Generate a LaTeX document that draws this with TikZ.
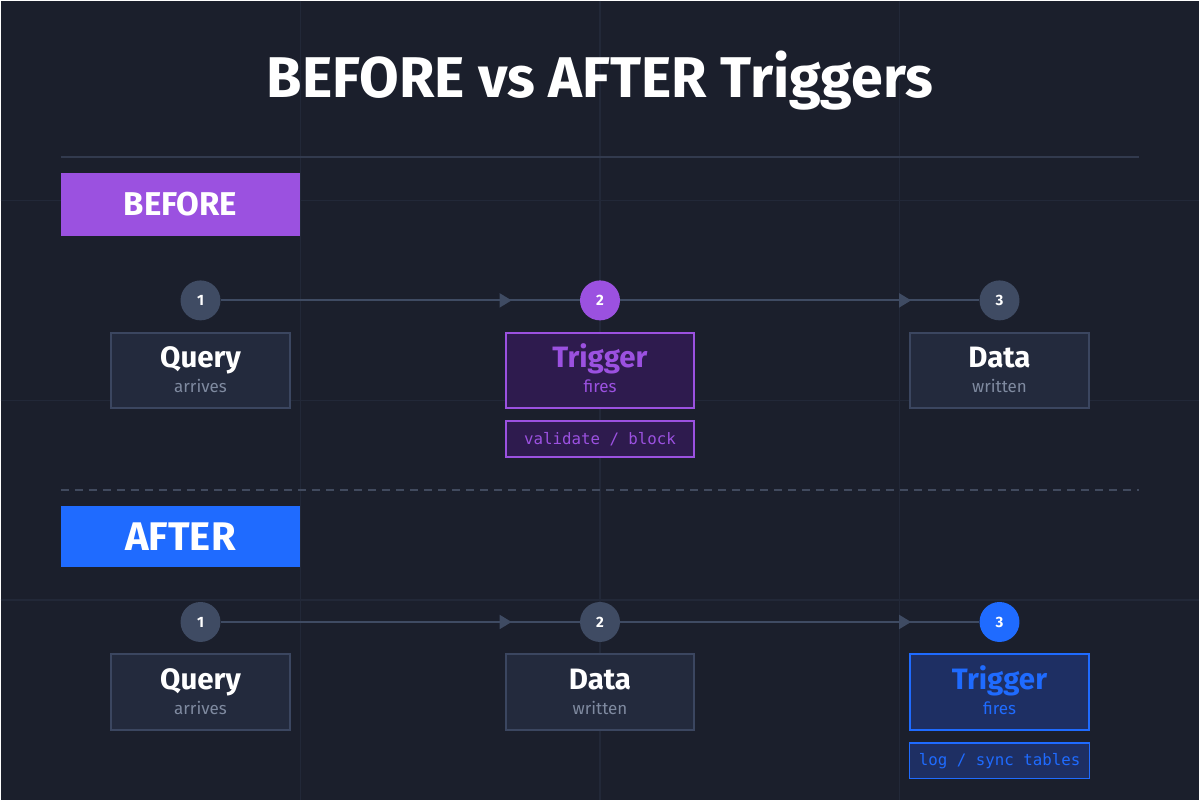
\documentclass[tikz,border=0pt]{standalone}
\usepackage{fontspec}
\setmainfont{Fira Sans}
\setmonofont{DejaVu Sans Mono}
\usetikzlibrary{positioning,arrows.meta,decorations.markings}

\definecolor{bgc}{HTML}{1B1F2C}
\definecolor{gridc}{HTML}{222838}
\definecolor{rulec}{HTML}{323A4E}
\definecolor{linec}{HTML}{3F4B63}
\definecolor{cardfill}{HTML}{232A3D}
\definecolor{cardline}{HTML}{3B4660}
\definecolor{subc}{HTML}{7F8AA0}
\definecolor{purp}{HTML}{9B51E0}
\definecolor{purpfill}{HTML}{2E1B4E}
\definecolor{blu}{HTML}{1F6BFF}
\definecolor{blufill}{HTML}{1E2F63}

\begin{document}
\begin{tikzpicture}[
    x=1pt, y=-1pt,
    dot/.style={circle, fill=linec, minimum size=40pt, inner sep=0pt, text=white,
        font=\fontsize{15}{15}\selectfont\bfseries},
    card/.style={rectangle, draw=cardline, fill=cardfill, line width=2pt,
        minimum width=180pt, minimum height=76pt, inner sep=0pt},
    tag/.style={rectangle, line width=1.5pt, minimum width=188pt,
        minimum height=36pt, inner sep=0pt, font=\fontsize{15.8}{16}\ttfamily},
    head/.style={anchor=base, text=white, font=\fontsize{29.5}{29.5}\selectfont\bfseries},
    sub/.style={anchor=base, text=subc, font=\fontsize{17}{17}\selectfont},
    banner/.style={rectangle, minimum width=240pt, inner sep=0pt, text=white},
    flow/.style={draw=linec, line width=2pt, postaction={decorate},
        decoration={markings, mark=at position 0.81 with {\arrow[linec]{Triangle[length=12pt,width=14pt]}}}}
]
\fill[bgc] (0,0) rectangle (1200,800);
\foreach \gx in {300,600,900}
    \draw[gridc, line width=1.5pt] (\gx,0) -- (\gx,800);
\foreach \gy in {200,400,600}
    \draw[gridc, line width=1.5pt] (0,\gy) -- (1200,\gy);

% Title
\node[anchor=base, text=white, font=\fontsize{57.5}{57.5}\selectfont\bfseries] (title) at (600,97) {BEFORE vs AFTER Triggers};
\draw[rulec, line width=2pt] (60,156) -- (1140,156);

% Before
\node[banner, fill=purp, minimum height=64pt, font=\fontsize{33}{33}\selectfont\bfseries] (before) at (180,204) {BEFORE};

\node[dot] (b1) at (200,300) {1};
\node[dot, fill=purp] (b2) at (600,300) {2};
\node[dot] (b3) at (1000,300) {3};

\node[card, below=11pt of b1] (bq) {};
\node[card, below=11pt of b2, minimum width=188pt, draw=purp, fill=purpfill] (bt) {};
\node[card, below=11pt of b3] (bd) {};

\node[head] at ([yshift=3pt]bq.center) {Query};
\node[sub] at ([yshift=-22pt]bq.center) {arrives};
\node[head, text=purp] at ([yshift=3pt]bt.center) {Trigger};
\node[sub, text=purp] at ([yshift=-22pt]bt.center) {fires};
\node[head] at ([yshift=3pt]bd.center) {Data};
\node[sub] at ([yshift=-22pt]bd.center) {written};

\node[tag, below=11pt of bt, draw=purp, fill=purpfill, text=purp] (bv) {validate / block};

\draw[flow] (b1) -- (b2);
\draw[flow] (b2) -- (b3);

\draw[rulec!80!subc, line width=1.5pt, dash pattern=on 8pt off 6pt] (60,490) -- (1140,490);

% After
\node[banner, fill=blu, minimum height=61pt, font=\fontsize{40}{40}\selectfont\bfseries] (after) at (180,536.5) {AFTER};

\node[dot] (a1) at (200,622) {1};
\node[dot] (a2) at (600,622) {2};
\node[dot, fill=blu] (a3) at (1000,622) {3};

\node[card, below=11pt of a1] (aq) {};
\node[card, below=11pt of a2, minimum width=188pt] (ad) {};
\node[card, below=11pt of a3, draw=blu, fill=blufill] (at) {};

\node[head] at ([yshift=3pt]aq.center) {Query};
\node[sub] at ([yshift=-22pt]aq.center) {arrives};
\node[head] at ([yshift=3pt]ad.center) {Data};
\node[sub] at ([yshift=-22pt]ad.center) {written};
\node[head, text=blu] at ([yshift=3pt]at.center) {Trigger};
\node[sub, text=blu] at ([yshift=-22pt]at.center) {fires};

\node[tag, below=11pt of at, minimum width=180pt, draw=blu, fill=blufill, text=blu] (al) {log / sync tables};

\draw[flow] (a1) -- (a2);
\draw[flow] (a2) -- (a3);
\end{tikzpicture}
\end{document}
